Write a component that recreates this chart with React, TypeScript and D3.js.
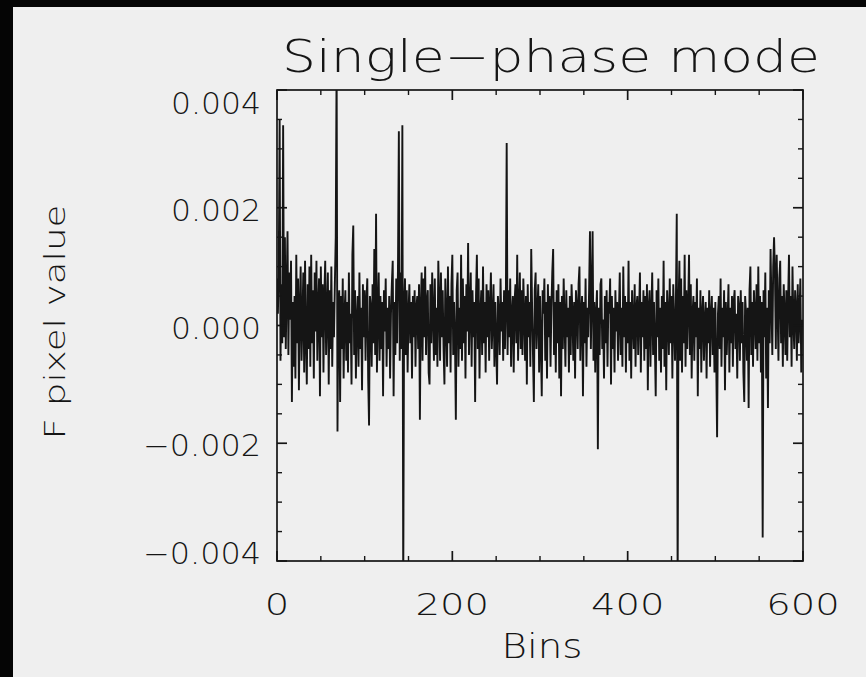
import React from "react";
import * as d3 from "d3";

// Signal values in units of 1e-4 (F pixel value), one per bin 0..599
const valuesE4: number[] = [
  8, 2, 9, 35, -6, 7, -3, 34, -2, 15, -4, 6, 16, -5, 9, 1, 11, -13, 4, -7,
  5, -9, 12, -3, 8, -11, 3, 10, -6, 1, 9, -8, 11, -2, -10, 7, -4, 10, -7, 12,
  -3, 6, -9, 9, -1, 11, -6, 3, 8, -12, 10, -2, 7, -8, 5, 11, -5, 2, 9, -10,
  6, -4, 10, -7, 4, -2, 7, 15, 45, -18, 3, 6, -13, 5, -4, 8, -9, 2, 6, -6,
  4, -8, 9, -3, 2, -10, 12, 17, -5, 6, -9, 1, 5, -7, 9, -4, 3, -11, 7, -2,
  6, -6, 4, 8, -9, -17, 5, 3, -7, 7, -3, 13, -5, 19, -8, 2, 9, -6, 5, -4,
  4, -12, 6, -1, 8, -7, 3, -4, 5, -9, 2, 7, 11, -12, 4, -5, 8, -3, 10, 33,
  -6, 9, -4, 34, -45, 3, 8, -5, 6, -8, 2, 7, -3, 4, -9, 5, -2, 6, -7, 3,
  5, -4, 7, -16, 3, 9, -6, 8, -2, 10, -5, 4, 6, -8, -10, 7, -3, 9, 2, -6,
  8, -5, 3, -7, 11, 4, -6, 9, -2, 6, -4, -10, 8, 1, -7, 10, -3, 5, -8, 7,
  12, -5, 4, -2, -16, 6, 9, -7, 3, -4, 12, -6, 8, -3, 5, -9, 7, -1, 14, -5,
  3, 9, -7, 6, -2, 4, -13, 5, 12, -4, 8, -9, 2, 6, -5, 10, -3, 4, -8, 7,
  -2, 6, -6, 3, 9, -4, 1, 7, -7, 4, -3, -10, 5, 2, -5, 8, -1, 4, -6, 6,
  -4, 3, 31, -5, 6, -2, 8, -7, 2, 5, -8, 4, 7, -3, 12, -6, 3, 9, -4, 6,
  -5, 8, 2, -6, 5, -10, 7, -2, 4, -7, 13, 3, -5, -13, 6, 9, -4, 2, 7, -8,
  5, -3, -12, 6, 2, 8, -6, 4, -9, 7, -2, 5, -7, 3, 9, 13, -5, 4, -8, 6,
  -3, 7, -9, 4, -12, 5, -4, 8, 1, -7, 6, -2, 3, -8, 5, -5, 7, 2, -6, 4,
  -9, 6, 3, -4, 7, 10, -6, 2, 5, -12, 4, -3, 8, -7, 3, -2, 6, 16, -4, 5,
  16, -6, 4, -8, 2, 6, -21, 3, -5, 7, 8, -4, 1, -9, 5, -3, 6, -7, 4, 2,
  8, -10, 5, -4, 3, -8, 6, -1, 4, -6, 2, 9, -5, 3, -7, 10, -2, 5, -8, 4,
  -3, 11, -6, 4, -9, 6, 1, -4, 7, -7, 3, 5, -5, 2, 9, -8, 4, -2, 6, -6,
  5, -4, 7, -11, 3, 6, -7, 2, 9, -5, 4, -3, -12, 6, -2, 8, -6, 3, -8, 5,
  -4, 11, -7, 4, -11, 6, 2, -5, 8, -3, 5, -9, 7, 1, -6, 4, 19, -45, 3, 11,
  -6, 8, -8, 5, -3, 12, -7, 6, -4, 3, 12, -5, 7, -9, 2, 5, -6, 4, -2, 8,
  -12, 3, -4, 6, -8, 2, 5, -6, 1, 4, -9, 3, -3, 6, -7, 2, 5, -5, 3, -8,
  4, -6, -19, 2, 5, -4, 8, -7, 3, -2, 6, -11, 4, -5, 1, 7, -8, 3, -3, 5,
  -7, 4, 6, -4, 2, -9, 5, 3, -6, 6, -3, 4, -8, -13, 5, 2, -6, 3, -14, 6,
  10, -5, 4, -7, 6, 2, -4, 7, -6, 10, -3, 5, -8, 4, -36, 6, -2, 9, -9, 3,
  -14, 6, -3, 13, 4, -5, 10, 15, 9, -4, 12, 3, -6, 8, 11, -3, 5, -7, 7, 2,
  -5, 6, -6, 4, 12, -2, 5, -7, 10, 1, -4, 6, 3, -6, 7, -3, 2, 8, -8, 1,
];

const xTicksMajor = [0, 200, 400, 600];
const xTickLabels = ["0", "200", "400", "600"];
const yTicksMajor = [-0.004, -0.002, 0, 0.002, 0.004];
const yTickLabels = ["\u22120.004", "\u22120.002", "0.000", "0.002", "0.004"];
const titleText = "Single\u2212phase mode";
const xTitle = "Bins";
const yTitle = "F pixel value";

const W = 866;
const H = 677;
const left = 277;
const right = 803;
const top = 90;
const bottom = 561;
const FONT = "'DejaVu Sans', 'Liberation Sans', sans-serif";
const INK = "#151515";

export default function App() {
  const x = d3.scaleLinear().domain([0, 600]).range([left, right]);
  const y = d3.scaleLinear().domain([-0.004, 0.004]).range([bottom, top]);
  const data = valuesE4.map((v, i) => ({ bin: i, val: v * 1e-4 }));
  const line = d3
    .line<{ bin: number; val: number }>()
    .x((d) => x(d.bin))
    .y((d) => y(d.val));

  const xMinor = d3.range(0, 601, 50).filter((v) => v % 200 !== 0);
  const yMinor = d3
    .range(-40, 41, 5)
    .filter((v) => v % 20 !== 0)
    .map((v) => v * 1e-4);

  const lab = (s: string) => (s.startsWith("\u2212") ? 118 : 90);

  return (
    <svg
      width={W}
      height={H}
      style={{ position: "absolute", left: 0, top: 0 }}
      xmlns="http://www.w3.org/2000/svg"
    >
      <rect x={0} y={0} width={W} height={H} fill="#efefef" />
      <rect x={0} y={0} width={W} height={7} fill="#050505" />
      <rect x={0} y={0} width={13} height={H} fill="#050505" />
      <defs>
        <clipPath id="plotclip">
          <rect x={left} y={top} width={right - left} height={bottom - top} />
        </clipPath>
      </defs>

      <path
        d={line(data) || ""}
        fill="none"
        stroke={INK}
        strokeWidth={1.9}
        strokeLinejoin="miter"
        strokeMiterlimit={2}
        clipPath="url(#plotclip)"
      />

      <rect
        x={left}
        y={top}
        width={right - left}
        height={bottom - top}
        fill="none"
        stroke={INK}
        strokeWidth={1.7}
      />

      {xTicksMajor.map((t) => (
        <g key={"xM" + t}>
          <line x1={x(t)} x2={x(t)} y1={bottom} y2={bottom - 10} stroke={INK} strokeWidth={1.7} />
          <line x1={x(t)} x2={x(t)} y1={top} y2={top + 10} stroke={INK} strokeWidth={1.7} />
        </g>
      ))}
      {xMinor.map((t) => (
        <g key={"xm" + t}>
          <line x1={x(t)} x2={x(t)} y1={bottom} y2={bottom - 5} stroke={INK} strokeWidth={1.4} />
          <line x1={x(t)} x2={x(t)} y1={top} y2={top + 5} stroke={INK} strokeWidth={1.4} />
        </g>
      ))}
      {yTicksMajor.map((t) => (
        <g key={"yM" + t}>
          <line x1={left} x2={left + 10} y1={y(t)} y2={y(t)} stroke={INK} strokeWidth={1.7} />
          <line x1={right} x2={right - 10} y1={y(t)} y2={y(t)} stroke={INK} strokeWidth={1.7} />
        </g>
      ))}
      {yMinor.map((t) => (
        <g key={"ym" + t}>
          <line x1={left} x2={left + 5} y1={y(t)} y2={y(t)} stroke={INK} strokeWidth={1.4} />
          <line x1={right} x2={right - 5} y1={y(t)} y2={y(t)} stroke={INK} strokeWidth={1.4} />
        </g>
      ))}

      <g fontFamily={FONT} fontWeight={200} fill={INK}>
        <text
          x={551}
          y={72}
          fontSize={44}
          textAnchor="middle"
          textLength={538}
          lengthAdjust="spacingAndGlyphs"
        >
          {titleText}
        </text>

        {xTicksMajor.map((t, i) => (
          <text
            key={"xl" + t}
            x={x(t)}
            y={615}
            fontSize={31}
            textAnchor="middle"
            textLength={24.5 * xTickLabels[i].length}
            lengthAdjust="spacingAndGlyphs"
          >
            {xTickLabels[i]}
          </text>
        ))}

        {yTicksMajor.map((t, i) => {
          const base = Math.min(Math.max(y(t) + 13, top + 24), bottom + 3);
          return (
            <text
              key={"yl" + t}
              x={261}
              y={base}
              fontSize={30}
              textAnchor="end"
              textLength={lab(yTickLabels[i])}
              lengthAdjust="spacingAndGlyphs"
            >
              {yTickLabels[i]}
            </text>
          );
        })}

        <text
          x={542}
          y={658}
          fontSize={33}
          textAnchor="middle"
          textLength={81}
          lengthAdjust="spacingAndGlyphs"
        >
          {xTitle}
        </text>

        <text
          transform={`translate(65,322) rotate(-90)`}
          fontSize={29}
          textAnchor="middle"
          textLength={235}
          lengthAdjust="spacingAndGlyphs"
        >
          {yTitle}
        </text>
      </g>
    </svg>
  );
}
